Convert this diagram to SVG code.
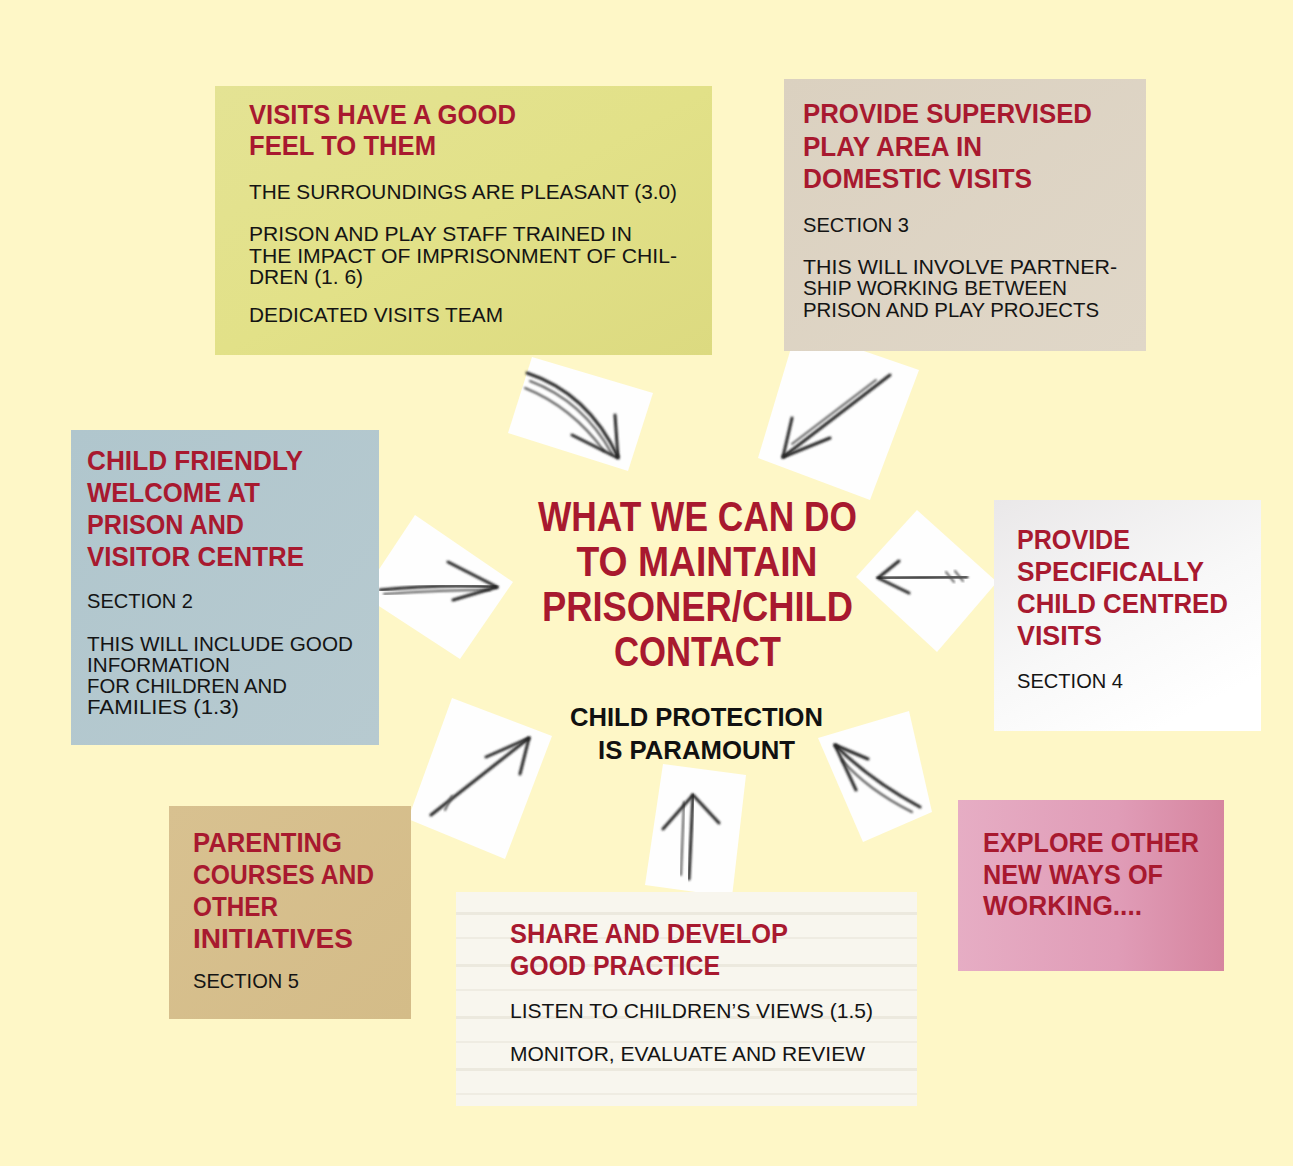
<svg xmlns="http://www.w3.org/2000/svg" width="1293" height="1166" viewBox="0 0 1293 1166">
  <defs>
    <style>
      .t { font-family: "Liberation Sans", Arial, sans-serif; font-weight: bold; fill: #A8192F; font-size: 27px; }
      .b { font-family: "Liberation Sans", Arial, sans-serif; fill: #141414; font-size: 21px; }
      .c { font-family: "Liberation Sans", Arial, sans-serif; font-weight: bold; fill: #A8192F; font-size: 43px; text-anchor: middle; }
      .k { font-family: "Liberation Sans", Arial, sans-serif; font-weight: bold; fill: #111; font-size: 26px; text-anchor: middle; }
      .tile { fill: #FEFEFE; }
      .arr { fill: none; stroke: #262626; stroke-width: 3; stroke-linecap: round; stroke-linejoin: round; filter: url(#soft); }
      .arr2 { fill: none; stroke: #555; stroke-width: 2; stroke-linecap: round; filter: url(#soft); }
    </style>
    <filter id="soft" x="-20%" y="-20%" width="140%" height="140%">
      <feGaussianBlur stdDeviation="0.9"/>
    </filter>
    <linearGradient id="gYellow" x1="0" y1="0" x2="1" y2="1">
      <stop offset="0" stop-color="#E4E394"/>
      <stop offset="0.5" stop-color="#E2E188"/>
      <stop offset="1" stop-color="#DCDA80"/>
    </linearGradient>
    <linearGradient id="gBeige" x1="0" y1="0" x2="1" y2="1">
      <stop offset="0" stop-color="#DBD1C0"/>
      <stop offset="1" stop-color="#E0D7C8"/>
    </linearGradient>
    <linearGradient id="gBlue" x1="0" y1="0" x2="1" y2="1">
      <stop offset="0" stop-color="#B0C6CD"/>
      <stop offset="1" stop-color="#B7CAD0"/>
    </linearGradient>
    <linearGradient id="gWhite" x1="0" y1="0" x2="0.6" y2="1">
      <stop offset="0" stop-color="#EAE8E9"/>
      <stop offset="0.6" stop-color="#F8F8F8"/>
      <stop offset="1" stop-color="#FFFFFF"/>
    </linearGradient>
    <linearGradient id="gPink" x1="0" y1="0" x2="1" y2="0">
      <stop offset="0" stop-color="#E6ADC4"/>
      <stop offset="0.6" stop-color="#E09CB7"/>
      <stop offset="1" stop-color="#D6859F"/>
    </linearGradient>
    <linearGradient id="gTan" x1="0" y1="0" x2="1" y2="1">
      <stop offset="0" stop-color="#D8C190"/>
      <stop offset="1" stop-color="#D4BC88"/>
    </linearGradient>
    <pattern id="lines" x="456" y="892" width="461" height="52" patternUnits="userSpaceOnUse">
      <rect width="461" height="52" fill="#F8F6EE"/>
      <rect y="20" width="461" height="3" fill="#ECE9DE"/>
      <rect y="45" width="461" height="2" fill="#EFECE2"/>
    </pattern>
  </defs>

  <rect x="0" y="0" width="1293" height="1166" fill="#FEF7C7"/>

  <g id="connectors">
    <g id="arrow-top-left">
      <polygon class="tile" points="532,357 653,393 628,471 508,433"/>
      <path class="arr" d="M527,373 Q588,393 618,457"/>
      <path class="arr2" d="M530,381 Q583,401 612,454"/>
      <path class="arr2" d="M525,388 Q572,407 604,451"/>
      <path class="arr" d="M615,415 L618,458 L572,435"/>
    </g>
    <g id="arrow-top-right">
      <polygon class="tile" points="797,328 919,370 870,500 758,458"/>
      <path class="arr" d="M890,375 L783,457"/>
      <path class="arr2" d="M876,380 L792,444"/>
      <path class="arr" d="M792,418 L783,457 L830,438"/>
    </g>
    <g id="arrow-left">
      <polygon class="tile" points="415,515 513,582 460,659 362,595"/>
      <path class="arr" d="M380,590 Q440,584 497,587"/>
      <path class="arr2" d="M384,594 Q440,590 490,590"/>
      <path class="arr" d="M448,562 L497,587 L453,600"/>
    </g>
    <g id="arrow-right">
      <polygon class="tile" points="917,510 997,582 937,652 856,577"/>
      <path class="arr" d="M967,577 L878,578"/>
      <path class="arr2" d="M946,572 L954,582"/>
      <path class="arr2" d="M955,571 L963,581"/>
      <path class="arr" d="M899,561 L878,578 L909,593"/>
    </g>
    <g id="arrow-bottom-left">
      <polygon class="tile" points="452,698 552,736 505,859 408,819"/>
      <path class="arr" d="M431,815 L529,738"/>
      <path class="arr2" d="M445,810 L452,796"/>
      <path class="arr" d="M486,757 L529,738 L520,774"/>
    </g>
    <g id="arrow-bottom">
      <polygon class="tile" points="663,764 746,775 732,897 645,885"/>
      <path class="arr" d="M689,879 L693,795"/>
      <path class="arr2" d="M681,875 L684,802"/>
      <path class="arr" d="M663,829 L693,795 L719,823"/>
    </g>
    <g id="arrow-bottom-right">
      <polygon class="tile" points="818,738 909,711 932,812 863,842"/>
      <path class="arr" d="M920,807 Q870,780 835,745"/>
      <path class="arr2" d="M912,812 Q868,790 842,760"/>
      <path class="arr" d="M868,759 L835,745 L856,790"/>
    </g>
  </g>

  <g id="node-visits-good-feel">
    <rect x="215" y="86" width="497" height="269" fill="url(#gYellow)"/>
    <text class="t" x="249" y="124" textLength="267" lengthAdjust="spacingAndGlyphs">VISITS HAVE A GOOD</text>
    <text class="t" x="249" y="155" textLength="187" lengthAdjust="spacingAndGlyphs">FEEL TO THEM</text>
    <text class="b" x="249" y="199" textLength="428" lengthAdjust="spacingAndGlyphs">THE SURROUNDINGS ARE PLEASANT (3.0)</text>
    <text class="b" x="249" y="241" textLength="383" lengthAdjust="spacingAndGlyphs">PRISON AND PLAY STAFF TRAINED IN</text>
    <text class="b" x="249" y="263" textLength="428" lengthAdjust="spacingAndGlyphs">THE IMPACT OF IMPRISONMENT OF CHIL-</text>
    <text class="b" x="249" y="284" textLength="114" lengthAdjust="spacingAndGlyphs">DREN (1. 6)</text>
    <text class="b" x="249" y="322" textLength="254" lengthAdjust="spacingAndGlyphs">DEDICATED VISITS TEAM</text>
  </g>

  <g id="node-supervised-play">
    <rect x="784" y="79" width="362" height="272" fill="url(#gBeige)"/>
    <text class="t" x="803" y="123" textLength="289" lengthAdjust="spacingAndGlyphs">PROVIDE SUPERVISED</text>
    <text class="t" x="803" y="156" textLength="179" lengthAdjust="spacingAndGlyphs">PLAY AREA IN</text>
    <text class="t" x="803" y="188" textLength="229" lengthAdjust="spacingAndGlyphs">DOMESTIC VISITS</text>
    <text class="b" x="803" y="232" textLength="106" lengthAdjust="spacingAndGlyphs">SECTION 3</text>
    <text class="b" x="803" y="274" textLength="314" lengthAdjust="spacingAndGlyphs">THIS WILL INVOLVE PARTNER-</text>
    <text class="b" x="803" y="295" textLength="264" lengthAdjust="spacingAndGlyphs">SHIP WORKING BETWEEN</text>
    <text class="b" x="803" y="317" textLength="296" lengthAdjust="spacingAndGlyphs">PRISON AND PLAY PROJECTS</text>
  </g>

  <g id="node-child-friendly-welcome">
    <rect x="71" y="430" width="308" height="315" fill="url(#gBlue)"/>
    <text class="t" x="87" y="470" textLength="216" lengthAdjust="spacingAndGlyphs">CHILD FRIENDLY</text>
    <text class="t" x="87" y="502" textLength="173" lengthAdjust="spacingAndGlyphs">WELCOME AT</text>
    <text class="t" x="87" y="534" textLength="157" lengthAdjust="spacingAndGlyphs">PRISON AND</text>
    <text class="t" x="87" y="566" textLength="217" lengthAdjust="spacingAndGlyphs">VISITOR CENTRE</text>
    <text class="b" x="87" y="608" textLength="106" lengthAdjust="spacingAndGlyphs">SECTION 2</text>
    <text class="b" x="87" y="651" textLength="266" lengthAdjust="spacingAndGlyphs">THIS WILL INCLUDE GOOD</text>
    <text class="b" x="87" y="672" textLength="143" lengthAdjust="spacingAndGlyphs">INFORMATION</text>
    <text class="b" x="87" y="693" textLength="200" lengthAdjust="spacingAndGlyphs">FOR CHILDREN AND</text>
    <text class="b" x="87" y="714" textLength="152" lengthAdjust="spacingAndGlyphs">FAMILIES (1.3)</text>
  </g>

  <g id="node-child-centred-visits">
    <rect x="994" y="500" width="267" height="231" fill="url(#gWhite)"/>
    <text class="t" x="1017" y="549" textLength="113" lengthAdjust="spacingAndGlyphs">PROVIDE</text>
    <text class="t" x="1017" y="581" textLength="187" lengthAdjust="spacingAndGlyphs">SPECIFICALLY</text>
    <text class="t" x="1017" y="613" textLength="211" lengthAdjust="spacingAndGlyphs">CHILD CENTRED</text>
    <text class="t" x="1017" y="645" textLength="85" lengthAdjust="spacingAndGlyphs">VISITS</text>
    <text class="b" x="1017" y="688" textLength="106" lengthAdjust="spacingAndGlyphs">SECTION 4</text>
  </g>

  <g id="node-explore-new-ways">
    <rect x="958" y="800" width="266" height="171" fill="url(#gPink)"/>
    <text class="t" x="983" y="852" textLength="216" lengthAdjust="spacingAndGlyphs">EXPLORE OTHER</text>
    <text class="t" x="983" y="884" textLength="180" lengthAdjust="spacingAndGlyphs">NEW WAYS OF</text>
    <text class="t" x="983" y="915" textLength="159" lengthAdjust="spacingAndGlyphs">WORKING....</text>
  </g>

  <g id="node-parenting-courses">
    <rect x="169" y="806" width="242" height="213" fill="url(#gTan)"/>
    <text class="t" x="193" y="852" textLength="149" lengthAdjust="spacingAndGlyphs">PARENTING</text>
    <text class="t" x="193" y="884" textLength="181" lengthAdjust="spacingAndGlyphs">COURSES AND</text>
    <text class="t" x="193" y="916" textLength="85" lengthAdjust="spacingAndGlyphs">OTHER</text>
    <text class="t" x="193" y="948" textLength="160" lengthAdjust="spacingAndGlyphs">INITIATIVES</text>
    <text class="b" x="193" y="988" textLength="106" lengthAdjust="spacingAndGlyphs">SECTION 5</text>
  </g>

  <g id="node-share-good-practice">
    <rect x="456" y="892" width="461" height="214" fill="url(#lines)"/>
    <text class="t" x="510" y="943" textLength="278" lengthAdjust="spacingAndGlyphs">SHARE AND DEVELOP</text>
    <text class="t" x="510" y="975" textLength="210" lengthAdjust="spacingAndGlyphs">GOOD PRACTICE</text>
    <text class="b" x="510" y="1018" textLength="363" lengthAdjust="spacingAndGlyphs">LISTEN TO CHILDREN’S VIEWS (1.5)</text>
    <text class="b" x="510" y="1061" textLength="355" lengthAdjust="spacingAndGlyphs">MONITOR, EVALUATE AND REVIEW</text>
  </g>

  <g id="node-center">
    <text class="c" x="697.5" y="531" textLength="319" lengthAdjust="spacingAndGlyphs">WHAT WE CAN DO</text>
    <text class="c" x="697" y="576" textLength="241" lengthAdjust="spacingAndGlyphs">TO MAINTAIN</text>
    <text class="c" x="697.5" y="621" textLength="311" lengthAdjust="spacingAndGlyphs">PRISONER/CHILD</text>
    <text class="c" x="697.5" y="666" textLength="167" lengthAdjust="spacingAndGlyphs">CONTACT</text>
    <text class="k" x="696.5" y="726" textLength="253" lengthAdjust="spacingAndGlyphs">CHILD PROTECTION</text>
    <text class="k" x="696.5" y="759" textLength="197" lengthAdjust="spacingAndGlyphs">IS PARAMOUNT</text>
  </g>
</svg>
